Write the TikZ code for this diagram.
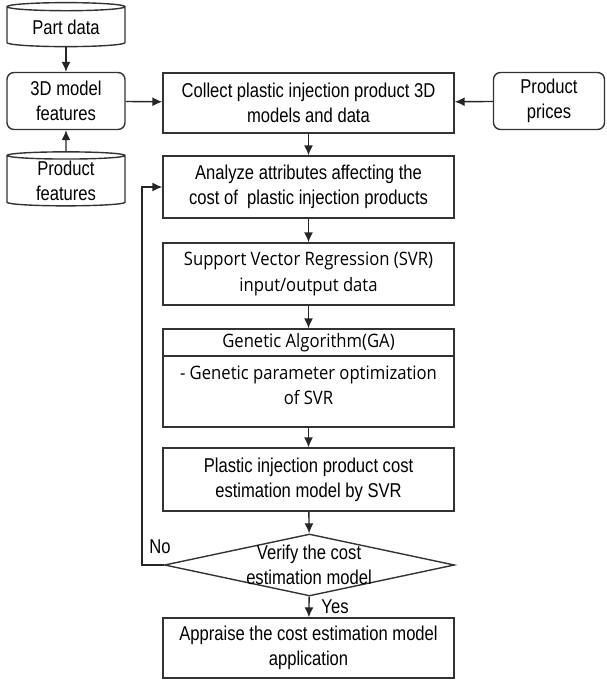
\documentclass[tikz,border=0pt]{standalone}
\usepackage{fontspec}
\setmainfont[FakeStretch=0.83]{Liberation Sans}
\newfontfamily\gafont[FakeStretch=0.9]{Open Sans}
\usepackage{tikz}
\usepackage{xcolor}
\usetikzlibrary{shapes, arrows.meta, positioning}

\tikzset{
    box/.style={rectangle, draw=black!80, line width=1.4pt, fill=white, align=center,
        minimum width=291pt, inner sep=2pt},
    store/.style={cylinder, shape border rotate=90, aspect=0.12, draw=black!80, line width=1.4pt,
        align=center, minimum width=118pt, inner sep=0pt},
    soft/.style={rectangle, rounded corners=7pt, draw=black!80, line width=1.4pt, align=center,
        inner sep=0pt},
    flow/.style={draw=black!85, line width=1.4pt, -{Latex[length=10pt,width=9pt]}}
}

\begin{document}
\begin{tikzpicture}[x=1pt, y=-1pt, font=\fontsize{20}{25}\selectfont]
        \useasboundingbox (0,0) rectangle (606,680);

        % inputs on the sides
        \node[store, minimum height=44pt] (part) at (66, 27) {Part data};
        \node[soft, minimum width=118pt, minimum height=57pt] (feat3d) at (66, 101) {3D model\\features};
        \node[store, minimum height=54pt] (prodfeat) at (66, 181) {Product\\features};
        \node[soft, minimum width=111pt, minimum height=57pt] (prices) at (549, 101) {Product\\prices};

        % main column
        \node[box, minimum height=60pt] (collect) at (308.5, 103) {Collect plastic injection product 3D\\models and data};
        \node[box, minimum height=62pt] (analyze) at (308.5, 187) {Analyze attributes affecting the\\cost of \ plastic injection products};
        \node[box, minimum height=62pt, font=\gafont\fontsize{18.5}{26}\selectfont] (svr) at (308.5, 274) {Support Vector Regression (SVR)\\input/output data};
        \node[box, minimum height=27pt, font=\gafont\fontsize{18.5}{26}\selectfont] (gahead) at (308.5, 342.5) {Genetic Algorithm(GA)};
        \node[box, minimum height=71pt] (gabody) at (308.5, 391.5) {};
        \node[font=\gafont\fontsize{18.5}{25}\selectfont, align=center] (gatext) at (308.5, 385) {- Genetic parameter optimization\\of SVR};
        \node[box, minimum height=63pt] (model) at (308.5, 479.5) {Plastic injection product cost\\estimation model by SVR};
        \node[diamond, draw=black!80, line width=1.4pt, minimum width=290pt, minimum height=62pt,
            inner sep=0pt, align=center] (verify) at (309.5, 565) {};
        \node[align=center] (verifytext) at (309, 565) {Verify the cost\\estimation model};
        \node[box, minimum height=60pt] (appraise) at (308.5, 648) {Appraise the cost estimation model\\application};

        \node (no) at (160, 547) {No};
        \node (yes) at (335, 607) {Yes};

        \draw[flow] (part) to (feat3d);
        \draw[flow] (prodfeat) to (feat3d);
        \draw[flow] (feat3d) to (collect);
        \draw[flow] (prices) to (collect);
        \draw[flow] (collect) to (analyze);
        \draw[flow] (analyze) to (svr);
        \draw[flow] (svr) to (gahead);
        \draw[flow] (gabody) to (model);
        \draw[flow] (model) to (verify);
        \draw[flow] (verify) to (appraise);
        \draw[flow] (verify.west) -- ++(-22, 0) |- (analyze.west);
    \end{tikzpicture}
\end{document}
